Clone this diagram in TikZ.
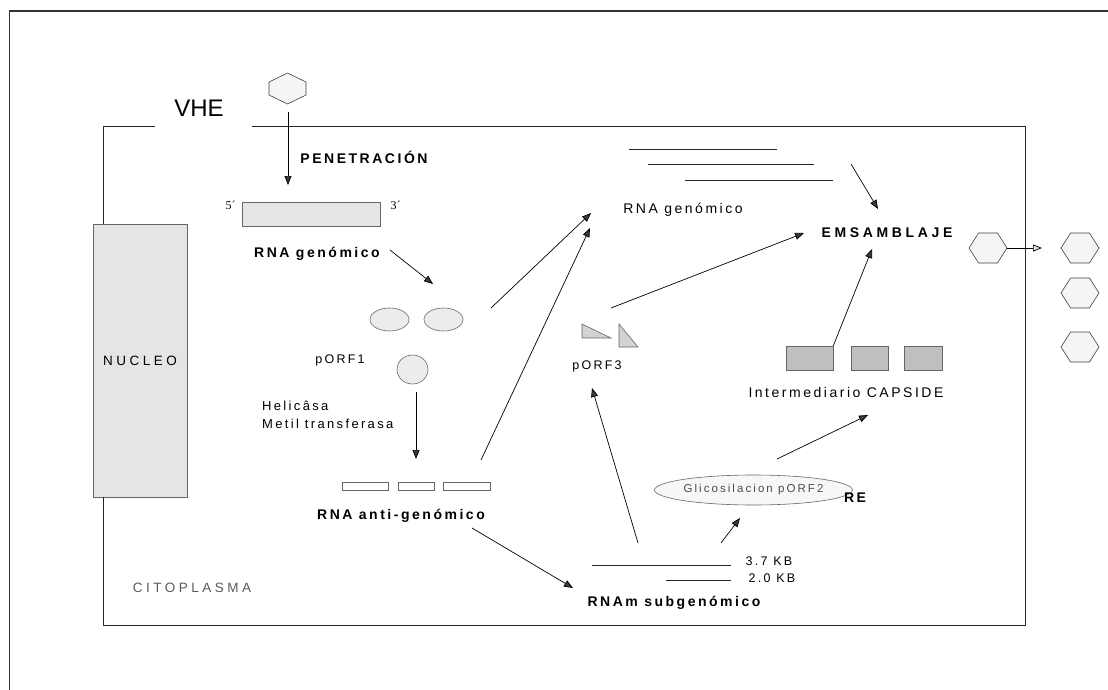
\documentclass[tikz,border=0pt]{standalone}
\usepackage{fontspec}
\setmainfont{Liberation Sans}
\newfontfamily\espaciado[LetterSpace=18]{Liberation Sans}
\newfontfamily\ancha[LetterSpace=26]{Liberation Sans}
\newfontfamily\serifa{Liberation Serif}
\usetikzlibrary{arrows.meta,shapes.geometric,shapes.symbols}

\tikzset{
  flecha/.style={-{Triangle[length=9pt,width=7pt,fill=gray!45!black]}, line width=0.7pt},
  negrita/.style={font=\espaciado\bfseries\fontsize{14}{16}\selectfont, inner sep=0pt},
  normal/.style={font=\espaciado\fontsize{13.5}{16}\selectfont, inner sep=0pt},
  hexa/.style={signal, signal to=east and west, signal pointer angle=115, draw=black!75,
    fill=gray!8, minimum width=38pt, minimum height=30pt, inner sep=0pt, line width=0.6pt},
  hexlinea/.style={draw=black!75, fill=gray!8, line width=0.6pt},
  ovalo/.style={ellipse, draw=gray!80!black, fill=gray!15, inner sep=0pt, line width=0.6pt},
  caja/.style={rectangle, draw=gray!80!black, inner sep=0pt, line width=0.6pt},
  hebra/.style={line width=0.7pt, black!85},
  tri/.style={draw=gray!80!black, fill=gray!35, line width=0.6pt},
}

\begin{document}
\begin{tikzpicture}[x=1pt,y=-1pt]
\useasboundingbox (0,0) rectangle (1108,690);

% marco y membrana
\draw[line width=1.2pt, black!80] (9.5,690) -- (9.5,11) -- (1108,11);
\node[caja, fill=gray!20, minimum width=94pt, minimum height=273pt,
  font=\ancha\fontsize{13.5}{16}\selectfont] (nucleo) at (140,360.5) {NUCLEO};
\draw[hebra] (155,126) -- (103,126) -- (nucleo.north -| 103,0);
\draw[hebra] (252,126) -- (1025,126) -- (1025,625) -- (103,625) -- (nucleo.south -| 103,0);
\node[font=\fontsize{24}{28}\selectfont, inner sep=0pt] (vhe) at (199,108.5) {VHE};

% entrada del virus
\node[minimum width=37pt, minimum height=31pt, inner sep=0pt] (virion) at (287.5,88.5) {};
\draw[hexlinea, shift={(virion.center)}] (0,-15.5) -- (18.5,-6.5) -- (18.5,6.5) -- (0,15.5)
  -- (-18.5,6.5) -- (-18.5,-6.5) -- cycle;
\node[negrita] (penetra) at (364,157) {PENETRACIÓN};
\node[caja, fill=gray!20, minimum width=138pt, minimum height=24pt] (genoma) at (311,214) {};
\node[font=\serifa\fontsize{12}{14}\selectfont, inner sep=0pt] (cinco) at (230.5,205) {5´};
\node[font=\serifa\fontsize{12}{14}\selectfont, inner sep=0pt] (tres) at (395.5,205) {3´};
\node[negrita] (rnagen) at (317,254) {RNA genómico};

% pORF1
\node[ovalo, minimum width=39pt, minimum height=23pt] (orf1a) at (389.5,319.5) {};
\node[ovalo, minimum width=39pt, minimum height=23pt] (orf1b) at (443.5,319.5) {};
\node[ovalo, minimum width=31pt, minimum height=29pt] (orf1c) at (412.5,369.5) {};
\node[normal, font=\espaciado\fontsize{12.5}{15}\selectfont] (porf1) at (340,360) {pORF1};
\node[normal, font=\espaciado\fontsize{13}{18}\selectfont, anchor=north west, align=left]
  (enzimas) at (262,401) {Helicâsa\\Metil transferasa};

% RNA anti-genomico
\node[caja, minimum width=46pt, minimum height=8pt] (anti1) at (365,486) {};
\node[caja, minimum width=36pt, minimum height=8pt] (anti2) at (416,486) {};
\node[caja, minimum width=47pt, minimum height=8pt] (anti3) at (466.5,486) {};
\node[negrita] (rnaanti) at (401,516) {RNA anti-genómico};
\node[normal, font=\ancha\fontsize{13.5}{16}\selectfont, text=gray!70!black] (cito) at (192,588) {CITOPLASMA};

% RNAm subgenomico
\draw[hebra] (592,565) -- (731,565);
\draw[hebra] (666,580) -- (731,580);
\node[normal, font=\espaciado\fontsize{12.5}{15}\selectfont] (kb37) at (769,561) {3.7 KB};
\node[normal, font=\espaciado\fontsize{12.5}{15}\selectfont] (kb20) at (772,578) {2.0 KB};
\node[negrita] (rnam) at (674,603) {RNAm subgenómico};

% pORF2 y pORF3
\node[ovalo, fill=gray!6, minimum width=177pt, minimum height=30pt, text=gray!60!black,
  font=\espaciado\fontsize{11.5}{14}\selectfont] (glico) at (753.5,490) {Glicosilacion pORF2};
\node[negrita] (re) at (855,498) {RE};
\draw[tri] (582,324) -- (582,338) -- (611,338) -- cycle;
\draw[tri] (619,324) -- (619,347) -- (638,347) -- cycle;
\node[normal, font=\espaciado\fontsize{12.5}{15}\selectfont] (porf3) at (597,366) {pORF3};

% RNA genomico nuevo
\draw[hebra] (629,149) -- (777,149);
\draw[hebra] (648,164) -- (814,164);
\draw[hebra] (685,180) -- (833,180);
\node[normal, font=\espaciado\fontsize{14}{16}\selectfont] (rnanuevo) at (683,210) {RNA genómico};

% capside y ensamblaje
\node[caja, fill=gray!50, minimum width=47pt, minimum height=24pt] (cap1) at (809.5,358) {};
\node[caja, fill=gray!50, minimum width=37pt, minimum height=24pt] (cap2) at (869.5,358) {};
\node[caja, fill=gray!50, minimum width=38pt, minimum height=24pt] (cap3) at (923.5,358) {};
\node[normal, font=\espaciado\fontsize{14}{16}\selectfont] (capside) at (846,392) {Intermediario CAPSIDE};
\node[negrita, font=\ancha\bfseries\fontsize{14}{16}\selectfont] (emsambla) at (887,233) {EMSAMBLAJE};
\node[hexa] (hexin) at (988,248) {};
\node[hexa] (hexout1) at (1080,248) {};
\node[hexa] (hexout2) at (1080,293) {};
\node[hexa] (hexout3) at (1080,347) {};

% extremos de las flechas
\coordinate (a1) at (288,112);  \coordinate (b1) at (288,185);
\coordinate (a2) at (390,250);  \coordinate (b2) at (433,284);
\coordinate (a3) at (416,392);  \coordinate (b3) at (416,459);
\coordinate (a4) at (491,308);  \coordinate (b4) at (591,213);
\coordinate (a5) at (481,460);  \coordinate (b5) at (590,228);
\coordinate (a6) at (472,528);  \coordinate (b6) at (573,588);
\coordinate (a7) at (638,543);  \coordinate (b7) at (592,388);
\coordinate (a8) at (721,543);  \coordinate (b8) at (740,518);
\coordinate (a9) at (777,459);  \coordinate (b9) at (868,415);
\coordinate (a10) at (611,308); \coordinate (b10) at (804,233);
\coordinate (a11) at (851,164); \coordinate (b11) at (878,209);
\coordinate (b12) at (872,249);
\coordinate (b13) at (1042,248);

\foreach \i in {1,...,11} {
  \draw[flecha] (a\i) -- (b\i);
}
\draw[flecha] (cap1.north east) -- (b12);
\draw[-{Triangle[length=9pt,width=7pt,fill=gray!25]}, line width=0.7pt] (hexin.east) -- (b13);
\end{tikzpicture}
\end{document}
